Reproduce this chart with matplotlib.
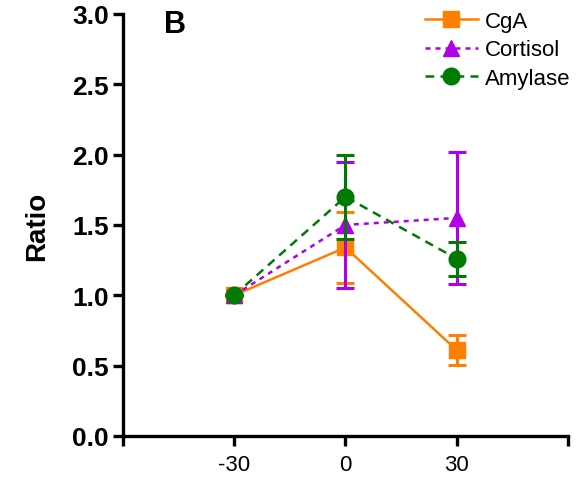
import numpy as np
import matplotlib
matplotlib.use("Agg")
import matplotlib.pyplot as plt
from matplotlib.lines import Line2D

plt.rcParams['font.family'] = ['Liberation Sans', 'DejaVu Sans']

time = [-30, 0, 30]
cga = [1.0, 1.34, 0.61]
cga_err = [0.0, 0.25, 0.105]
cortisol = [1.0, 1.50, 1.55]
cortisol_err = [0.0, 0.45, 0.47]
amylase = [1.0, 1.70, 1.26]
amylase_err = [0.0, 0.30, 0.12]

names = ['CgA', 'Cortisol', 'Amylase']
colors = ['#FF8000', '#B000E8', '#007A00']
styles = ['-', (0, (2, 2)), (0, (3.5, 2.5))]
markers = ['s', '^', 'o']

fig = plt.figure(figsize=(5.87, 4.81), dpi=100)
ax = fig.add_axes([0.2095, 0.0915, 0.758, 0.8775])

series = [(cga, cga_err), (cortisol, cortisol_err), (amylase, amylase_err)]
handles = []
for i, (vals, err) in enumerate(series):
    ax.errorbar(time, vals, yerr=err, color=colors[i], lw=1.8, ls=styles[i],
                marker=markers[i], ms=12, capsize=6.5, capthick=2.2,
                elinewidth=2.2, zorder=3 + i)
    handles.append(Line2D([], [], color=colors[i], lw=1.8, ls=styles[i],
                          marker=markers[i], ms=12))

ax.set_xlim(-60, 60)
ax.set_ylim(0, 3.0)
ax.set_xticks([-60, -30, 0, 30, 60])
ax.set_xticklabels(['', '-30', '0', '30', ''], fontsize=16)
ax.set_yticks(np.arange(0, 3.01, 0.5))
ax.set_yticklabels(['%.1f' % v for v in np.arange(0, 3.01, 0.5)],
                   fontsize=19, fontweight='bold')
ax.set_ylabel('Ratio', fontsize=20, fontweight='bold', labelpad=16)

for s in ['top', 'right']:
    ax.spines[s].set_visible(False)
for s in ['left', 'bottom']:
    ax.spines[s].set_linewidth(2.4)
ax.tick_params(width=2.4, length=7, direction='out', pad=3)
ax.tick_params(axis='x', pad=6)

ax.text(-45.9, 2.93, 'B', fontsize=22, fontweight='bold',
        ha='center', va='center')

ax.legend(handles, names, loc='upper right', bbox_to_anchor=(1.05, 1.055),
          frameon=False, fontsize=16, handlelength=2.4, handletextpad=0.3,
          labelspacing=0.35)

fig.savefig('out.png', dpi=100)
